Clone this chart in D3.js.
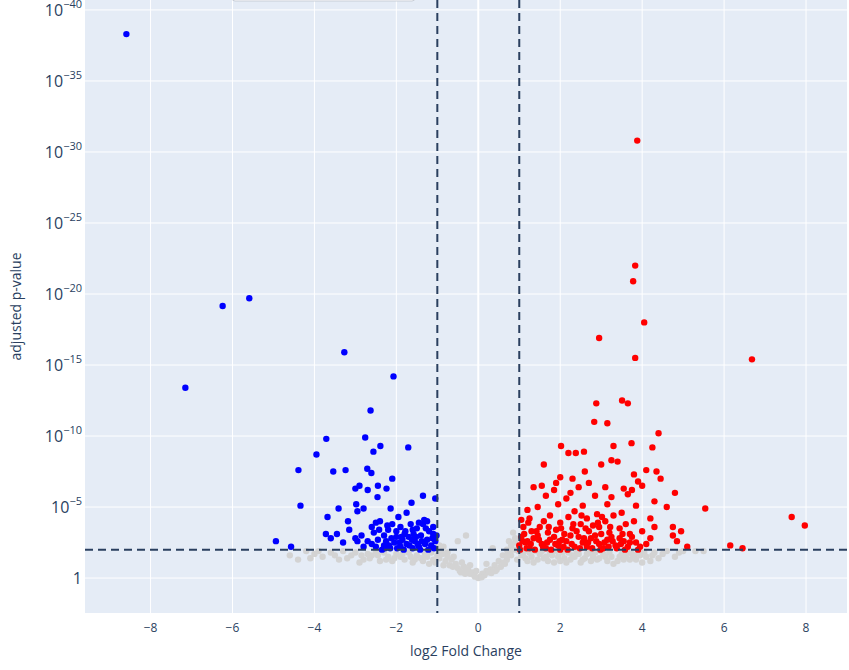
<!DOCTYPE html>
<html>
<head>
<meta charset="utf-8">
<script src="https://cdn.jsdelivr.net/npm/d3@7"></script>
<style>body{margin:0;background:#fff}</style>
</head>
<body>
<div id="chart"></div>
<script>
// values: [log2 fold change, -log10 adjusted p]
const downGenes = [[-8.59,38.3],[-6.24,19.15],[-5.59,19.7],[-7.15,13.4],[-3.27,15.9],[-2.07,14.2],[-2.63,11.8],[-3.71,9.8],[-2.76,9.9],[-2.39,9.3],[-2.56,8.9],[-1.71,9.2],[-3.95,8.7],[-4.39,7.6],[-3.54,7.5],[-3.24,7.6],[-2.71,7.7],[-2.61,7.4],[-2.1,7.0],[-3.0,6.3],[-2.7,6.2],[-2.45,6.5],[-2.9,6.5],[-1.35,5.8],[-1.05,5.6],[-4.34,5.1],[-3.68,4.3],[-3.41,4.9],[-2.98,5.2],[-2.46,5.7],[-2.24,6.3],[-1.63,5.3],[-2.14,4.9],[-2.8,4.9],[-2.5,3.9],[-2.4,4.0],[-3.18,4.0],[-3.45,3.1],[-3.72,3.1],[-4.94,2.6],[-4.57,2.2],[-3.3,2.5],[-3.0,2.8],[-2.85,3.0],[-2.7,2.6],[-2.55,3.2],[-2.3,3.0],[-2.2,3.4],[-2.0,3.3],[-1.9,3.6],[-1.8,3.1],[-1.7,2.9],[-1.6,3.4],[-1.5,3.5],[-1.45,3.9],[-1.35,3.8],[-1.25,4.0],[-1.2,3.3],[-1.1,3.1],[-1.05,2.6],[-1.15,2.3],[-1.3,2.4],[-1.45,2.2],[-1.6,2.1],[-1.75,2.4],[-1.9,2.2],[-2.05,2.5],[-2.15,2.1],[-2.3,2.3],[-2.45,2.7],[-2.6,2.4],[-2.8,2.2],[-2.95,2.6],[-2.35,2.0],[-1.85,2.7],[-1.55,2.6],[-1.4,3.0],[-1.25,2.7],[-1.1,3.6],[-2.0,2.9],[-2.25,2.6],[-1.65,3.8],[-2.6,3.6],[-2.1,3.8],[-1.95,4.3],[-1.75,4.6],[-2.95,4.7],[-3.6,2.8],[-3.15,3.4],[-1.08,2.1],[-1.22,2.0],[-1.38,2.6],[-1.52,2.9],[-1.68,2.3],[-1.82,2.0],[-1.98,2.1],[-2.12,2.8],[-2.28,2.1],[-2.42,3.4],[-1.12,2.8],[-1.28,3.5],[-1.48,2.4],[-1.62,2.7],[-1.78,3.3],[-1.92,2.5],[-2.22,3.7],[-1.02,3.0],[-1.32,4.1],[-1.88,2.9],[-2.5,2.2],[-2.18,2.3],[-1.58,3.1],[-1.42,2.0]];
const upGenes = [[3.88,30.8],[3.83,22.0],[3.78,20.9],[4.05,18.0],[6.68,15.4],[2.95,16.9],[3.83,15.5],[3.51,12.5],[3.65,12.3],[2.88,12.3],[2.83,11.0],[3.15,10.9],[4.4,10.2],[3.74,9.5],[3.3,9.3],[2.02,9.3],[4.25,9.2],[2.58,8.9],[2.38,8.8],[2.2,8.8],[3.25,8.3],[3.4,8.2],[1.6,8.0],[3.0,8.0],[4.1,7.6],[4.35,7.5],[3.8,7.3],[2.6,7.5],[2.3,7.0],[4.45,7.0],[2.0,7.1],[3.9,6.8],[1.9,6.7],[2.7,6.7],[1.35,6.4],[1.55,6.5],[1.85,6.2],[2.45,6.4],[3.1,6.4],[3.75,6.2],[4.0,6.5],[4.8,6.0],[3.55,6.3],[2.25,6.0],[1.65,5.8],[2.15,5.6],[2.85,5.8],[3.25,5.7],[3.65,5.9],[4.3,5.4],[4.6,5.0],[5.54,4.9],[3.15,5.2],[2.55,5.1],[1.95,5.2],[1.45,5.0],[1.2,4.8],[3.85,5.1],[4.2,4.2],[3.5,4.6],[2.9,4.5],[2.35,4.7],[1.75,4.4],[1.25,4.2],[1.05,4.1],[2.0,3.9],[2.65,4.2],[3.1,4.0],[3.8,4.0],[4.75,3.6],[4.95,3.3],[4.85,2.6],[4.75,3.0],[7.65,4.3],[7.97,3.7],[6.15,2.3],[6.45,2.1],[5.1,2.2],[1.1,3.6],[1.3,3.3],[1.5,3.6],[1.7,3.2],[1.9,3.4],[2.1,3.1],[2.3,3.5],[2.5,3.8],[2.7,3.3],[2.95,3.6],[3.2,3.2],[3.45,3.5],[3.7,3.1],[4.0,3.3],[4.3,3.6],[4.1,2.4],[1.0,2.3],[1.15,2.5],[1.35,2.8],[1.55,2.4],[1.75,2.7],[1.95,2.3],[2.15,2.6],[2.35,2.2],[2.55,2.5],[2.75,2.8],[2.95,2.4],[3.15,2.7],[3.35,2.3],[3.55,2.6],[3.75,2.9],[3.95,2.2],[1.05,2.9],[1.25,2.1],[1.45,3.0],[1.65,2.1],[1.85,2.9],[2.05,2.7],[2.25,3.0],[2.45,2.9],[2.65,2.2],[2.85,3.0],[3.05,2.1],[3.25,2.9],[3.45,2.8],[3.65,2.2],[3.85,2.5],[2.4,3.3],[1.6,4.0],[2.8,3.7],[3.6,3.8],[1.2,2.6],[2.0,2.0],[3.0,3.1],[4.2,2.8],[3.3,4.4],[2.2,4.3],[1.02,2.0],[1.08,2.6],[1.18,2.1],[1.28,2.4],[1.38,2.0],[1.48,2.7],[1.58,2.2],[1.68,2.5],[1.78,2.0],[1.88,2.4],[1.98,2.6],[2.08,2.2],[2.18,2.0],[2.28,2.4],[2.48,2.1],[2.58,2.8],[2.68,2.5],[2.78,2.1],[2.88,2.6],[2.98,2.0],[3.08,2.5],[3.18,2.2],[3.28,2.6],[3.38,2.1],[3.48,2.4],[3.58,2.0],[3.7,2.5],[3.9,2.0],[1.12,3.1],[1.42,3.3],[1.72,3.6],[2.02,3.5],[2.32,3.8],[2.62,3.5],[2.92,3.9],[3.22,3.6],[3.52,3.1],[1.22,3.9],[2.52,4.4],[3.02,4.3]];
const otherGenes = [[-4.6,1.6],[-4.4,1.3],[-4.0,1.7],[-3.8,1.5],[-3.5,1.6],[-3.2,1.4],[-3.0,1.8],[-2.8,1.3],[-2.6,1.6],[-2.4,1.2],[-2.2,1.5],[-2.0,1.7],[-1.8,1.3],[-1.6,1.1],[-1.4,1.4],[-1.2,1.0],[-1.0,1.6],[-0.9,1.9],[-0.8,1.2],[-0.7,0.9],[-0.6,1.5],[-0.5,0.7],[-0.4,1.1],[-0.3,0.5],[-0.2,0.3],[-0.1,0.2],[0,0],[0.05,0.1],[0.1,0.3],[0.2,0.5],[0.3,0.6],[0.4,0.9],[0.5,1.2],[0.6,1.6],[0.7,2.0],[0.8,2.3],[0.9,2.5],[0.95,1.3],[1.1,1.8],[1.3,1.5],[1.5,1.7],[1.7,1.2],[1.9,1.9],[2.1,1.4],[2.3,1.6],[2.5,1.1],[2.7,1.8],[2.9,1.3],[3.1,1.5],[3.3,1.0],[3.5,1.7],[3.7,1.3],[3.9,1.9],[4.1,1.5],[4.3,1.8],[4.6,1.9],[4.9,1.8],[5.3,1.9],[-0.3,3.0],[-0.5,2.6],[0.35,2.1],[-0.85,2.2],[0.85,3.2],[0.9,2.8],[0.75,2.6],[-0.75,1.8],[-0.95,2.3],[0.65,1.0],[-0.65,1.3],[-3.9,1.9],[-3.3,1.9],[-2.5,1.9],[-1.7,1.8],[-1.3,1.7],[1.2,1.2],[1.6,1.4],[2.0,1.2],[2.4,1.9],[2.8,1.5],[3.2,1.8],[3.6,1.5],[4.0,1.1],[4.4,1.4],[-4.2,1.9],[-2.9,1.1],[-2.1,1.2],[-1.5,1.6],[-1.1,1.3],[-0.55,1.0],[-0.45,0.5],[-0.35,0.8],[-0.25,0.6],[-0.15,0.4],[0.15,0.2],[0.25,0.4],[0.45,0.6],[0.55,0.8],[0.7,1.3],[0.8,1.6],[1.4,1.9],[1.8,1.6],[2.2,1.8],[2.6,1.4],[3.0,1.9],[3.4,1.2],[3.8,1.6],[4.2,1.2],[4.8,1.5],[-3.6,1.8],[-3.1,1.6],[-2.7,1.7],[-2.3,1.8],[-1.9,1.5],[-1.55,1.3],[-1.25,1.5],[-1.05,1.1],[-0.95,1.4],[-0.85,0.9],[-0.62,0.8],[-0.42,0.4],[-0.32,0.3],[-0.08,0.1],[0.08,0.05],[0.32,0.35],[0.42,0.5],[0.62,1.1],[0.72,1.7],[0.88,2.0],[0.98,1.9],[1.05,1.6],[1.15,1.4],[1.25,1.8],[1.35,1.1],[1.45,1.3],[1.55,1.9],[1.65,1.5],[1.75,1.8],[1.85,1.1],[1.95,1.5],[2.05,1.8],[2.15,1.1],[2.25,1.3],[2.35,1.5],[2.45,1.7],[2.55,1.3],[2.65,1.7],[2.75,1.2],[2.85,1.8],[2.95,1.4],[3.05,1.7],[3.15,1.2],[3.25,1.5],[3.45,1.5],[3.55,1.3],[3.65,1.8],[3.75,1.7],[3.85,1.3],[3.95,1.6],[4.05,1.8],[4.25,1.6],[4.5,1.7],[5.0,1.9],[5.5,1.9],[-0.2,0.9],[0.2,1.0],[-0.05,0.5],[-0.75,1.5],[0.78,1.9],[-0.88,1.7],[-1.15,1.8],[-1.35,1.2],[-1.65,1.5],[-1.85,1.7],[-2.05,1.4],[-2.25,1.3],[-2.45,1.6],[-2.65,1.4],[-2.85,1.6],[-3.4,1.3],[-4.1,1.4]];
const xTicks = [-8,-6,-4,-2,0,2,4,6,8];
const yTickExps = [0,-5,-10,-15,-20,-25,-30,-35,-40];
const fcCut = 1, padjCut = 0.01;

var width = 849, height = 670;
var margin = {left: 85, right: 2, top: 0, bottom: 57};
var svg = d3.select('#chart').append('svg')
    .attr('width', width).attr('height', height)
    .style('font-family', '"Open Sans", sans-serif');

var x = d3.scaleLinear().domain([-9.6, 9.0]).range([margin.left, width - margin.right]);
var y = d3.scaleLog().domain([Math.pow(10, 2.46), Math.pow(10, -40.7)]).range([height - margin.bottom, margin.top]);

svg.append('rect')
    .attr('x', margin.left).attr('y', margin.top)
    .attr('width', width - margin.left - margin.right)
    .attr('height', height - margin.top - margin.bottom)
    .attr('fill', '#e5ecf6');

var grid = svg.append('g');
grid.selectAll('.vx').data(xTicks).enter().append('line')
    .attr('x1', d => x(d)).attr('x2', d => x(d))
    .attr('y1', margin.top).attr('y2', height - margin.bottom)
    .attr('stroke', '#fff').attr('stroke-width', d => d === 0 ? 2 : 1);
grid.selectAll('.hy').data(yTickExps).enter().append('line')
    .attr('x1', margin.left).attr('x2', width - margin.right)
    .attr('y1', d => y(Math.pow(10, d))).attr('y2', d => y(Math.pow(10, d)))
    .attr('stroke', '#fff');

// ticks
svg.selectAll('.xt').data(xTicks).enter().append('text')
    .attr('x', d => x(d)).attr('y', height - margin.bottom + 19)
    .attr('text-anchor', 'middle').attr('font-size', 12).attr('fill', '#2a3f5f')
    .text(d => d < 0 ? '\u2212' + Math.abs(d) : d);

var yt = svg.selectAll('.yt').data(yTickExps).enter().append('text')
    .attr('x', margin.left - 3).attr('y', d => y(Math.pow(10, d)) + 6)
    .attr('text-anchor', 'end').attr('font-size', 16).attr('fill', '#2a3f5f');
yt.each(function(d) {
    var t = d3.select(this);
    if (d === 0) { t.text('1'); return; }
    t.append('tspan').text('10');
    t.append('tspan').attr('dy', -8).attr('font-size', 11).text('\u2212' + Math.abs(d));
});

// points
function plot(data, color) {
    svg.append('g').selectAll('circle').data(data).enter().append('circle')
        .attr('cx', d => x(d[0]))
        .attr('cy', d => y(Math.pow(10, -d[1])))
        .attr('r', 3.2)
        .attr('fill', color);
}
plot(otherGenes, '#d3d3d3');
plot(downGenes, '#0000ff');
plot(upGenes, '#ff0000');

// thresholds
var dash = svg.append('g').attr('stroke', '#2a3f5f').attr('stroke-width', 2).attr('stroke-dasharray', '8,5');
[-fcCut, fcCut].forEach(v => dash.append('line')
    .attr('x1', x(v)).attr('x2', x(v))
    .attr('y1', margin.top).attr('y2', height - margin.bottom));
dash.append('line')
    .attr('x1', margin.left).attr('x2', width - margin.right)
    .attr('y1', y(padjCut)).attr('y2', y(padjCut));

// legend box (cut off at top)
svg.append('rect')
    .attr('x', 232).attr('y', -30).attr('width', 183).attr('height', 31)
    .attr('rx', 3).attr('fill', '#fff').attr('stroke', '#c8cdd6');

svg.append('text')
    .attr('x', (margin.left + width - margin.right) / 2).attr('y', 656)
    .attr('text-anchor', 'middle').attr('font-size', 14).attr('fill', '#2a3f5f')
    .text('log2 Fold Change');
svg.append('text')
    .attr('transform', 'translate(21,' + (height - margin.bottom) / 2 + ') rotate(-90)')
    .attr('text-anchor', 'middle').attr('font-size', 14).attr('fill', '#2a3f5f')
    .text('adjusted p-value');
</script>
</body>
</html>
